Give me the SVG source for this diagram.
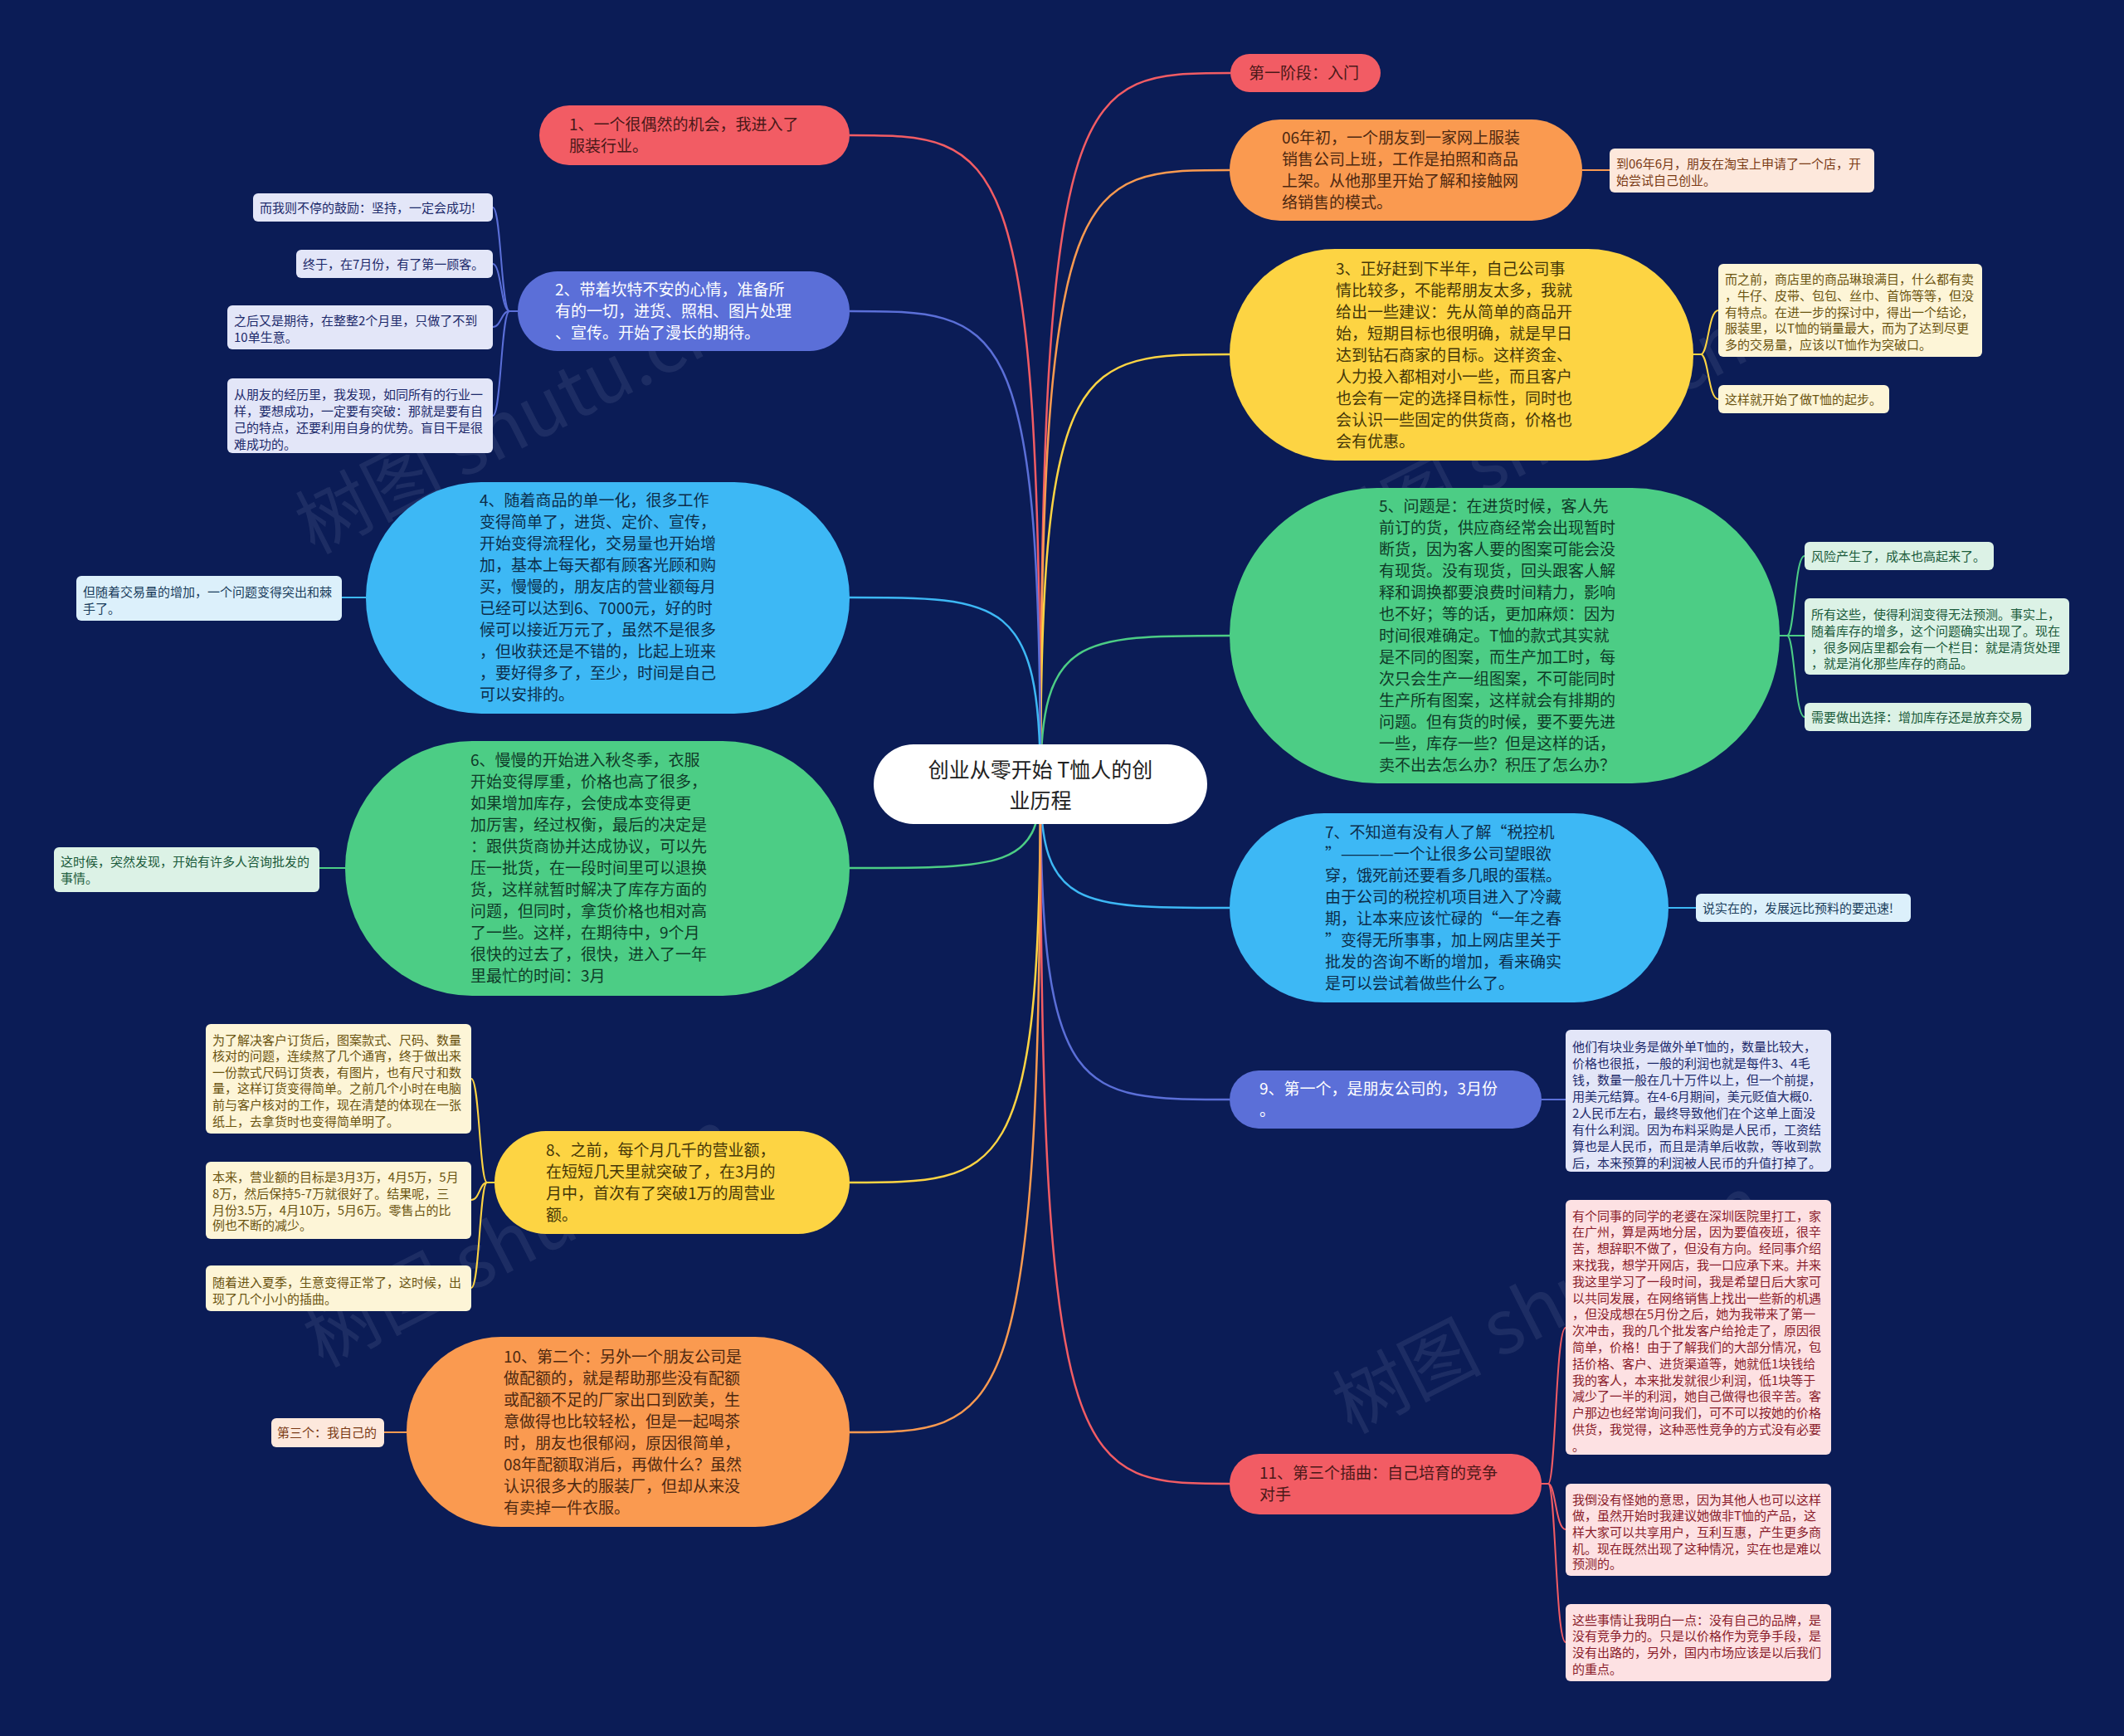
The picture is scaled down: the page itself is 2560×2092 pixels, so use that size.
<svg xmlns="http://www.w3.org/2000/svg" width="2560" height="2092" viewBox="0 0 2560 2092">
<defs>
<style>
text{font-family:'Noto Sans CJK SC','Noto Sans',sans-serif;}
.bg{fill:#0b1c56;}
.c{fill:none;stroke-width:2.5;}
.s{fill:none;stroke-width:2;}
.mt{font-size:19px;}
.nt{font-size:15px;}
.red{fill:#f25c64;} .redt{fill:#4a1818;}
.org{fill:#fa9a50;} .orgt{fill:#4d2810;}
.yel{fill:#fdd443;} .yelt{fill:#453708;}
.grn{fill:#4ccd85;} .grnt{fill:#0f3a28;}
.blu{fill:#3db8f5;} .blut{fill:#0c2d4a;}
.pur{fill:#5b6fd8;} .purt{fill:#ffffff;}
.nlav{fill:#e3e6f8;} .nlavt{fill:#1d2a6b;}
.npea{fill:#fde8dc;} .npeat{fill:#7a3a14;}
.nyel{fill:#fdf5d7;} .nyelt{fill:#6b5410;}
.ngrn{fill:#dcf2e6;} .ngrnt{fill:#1a5a3a;}
.nblu{fill:#dcf0fb;} .nblut{fill:#1a3d5c;}
.npnk{fill:#fde1e3;} .npnkt{fill:#8a1c2a;}
.wm{font-size:90px;fill:#9aa3c0;opacity:0.13;}
</style>
</defs>
<rect class="bg" x="0" y="0" width="2560" height="2092"/>

<g id="watermarks">
<text class="wm" x="630" y="540" text-anchor="middle" transform="rotate(-27 630 540)">树图 shutu.cn</text>
<text class="wm" x="1860" y="560" text-anchor="middle" transform="rotate(-27 1860 560)">树图 shutu.cn</text>
<text class="wm" x="640" y="1520" text-anchor="middle" transform="rotate(-27 640 1520)">树图 shutu.cn</text>
<text class="wm" x="1880" y="1600" text-anchor="middle" transform="rotate(-27 1880 1600)">树图 shutu.cn</text>
</g>

<g id="connectors">
<path class="c" stroke="#f25c64" d="M1254 945 C1254 88 1300 88 1483 88"/>
<path class="c" stroke="#fa9a50" d="M1254 945 C1254 205 1300 205 1482 205"/>
<path class="c" stroke="#fdd443" d="M1254 945 C1254 427 1300 427 1482 427"/>
<path class="c" stroke="#4ccd85" d="M1254 945 C1254 766 1300 766 1482 766"/>
<path class="c" stroke="#3db8f5" d="M1254 945 C1254 1094 1300 1094 1482 1094"/>
<path class="c" stroke="#5b6fd8" d="M1254 945 C1254 1325 1300 1325 1482 1325"/>
<path class="c" stroke="#f25c64" d="M1254 945 C1254 1788 1300 1788 1482 1788"/>
<path class="c" stroke="#f25c64" d="M1254 945 C1254 163 1208 163 1024 163"/>
<path class="c" stroke="#5b6fd8" d="M1254 945 C1254 375 1208 375 1024 375"/>
<path class="c" stroke="#3db8f5" d="M1254 945 C1254 720 1208 720 1024 720"/>
<path class="c" stroke="#4ccd85" d="M1254 945 C1254 1046 1208 1046 1024 1046"/>
<path class="c" stroke="#fdd443" d="M1254 945 C1254 1425 1208 1425 1024 1425"/>
<path class="c" stroke="#fa9a50" d="M1254 945 C1254 1726 1208 1726 1024 1726"/>
<path class="s" stroke="#5b6fd8" d="M624 375 L614 375 C604 375 604 250 594 250"/>
<path class="s" stroke="#5b6fd8" d="M624 375 L614 375 C604 375 604 318 594 318"/>
<path class="s" stroke="#5b6fd8" d="M624 375 L614 375 C604 375 604 394 594 394"/>
<path class="s" stroke="#5b6fd8" d="M624 375 L614 375 C604 375 604 501 594 501"/>
<path class="s" stroke="#fa9a50" d="M1907 205 L1940 205"/>
<path class="s" stroke="#fdd443" d="M2041 427 L2050 427 C2059 427 2059 374 2071 374"/>
<path class="s" stroke="#fdd443" d="M2041 427 L2050 427 C2059 427 2059 481 2071 481"/>
<path class="s" stroke="#4ccd85" d="M2145 766 L2154 766 C2163 766 2163 670 2175 670"/>
<path class="s" stroke="#4ccd85" d="M2145 766 L2175 766"/>
<path class="s" stroke="#4ccd85" d="M2145 766 L2154 766 C2163 766 2163 864 2175 864"/>
<path class="s" stroke="#3db8f5" d="M2011 1094 L2044 1094"/>
<path class="s" stroke="#5b6fd8" d="M1858 1325 L1887 1325"/>
<path class="s" stroke="#f25c64" d="M1858 1788 L1866 1788 C1875 1788 1875 1600 1887 1600"/>
<path class="s" stroke="#f25c64" d="M1858 1788 L1866 1788 C1875 1788 1875 1843 1887 1843"/>
<path class="s" stroke="#f25c64" d="M1858 1788 L1866 1788 C1875 1788 1875 1979 1887 1979"/>
<path class="s" stroke="#3db8f5" d="M441 720 L412 720"/>
<path class="s" stroke="#4ccd85" d="M416 1046 L385 1046"/>
<path class="s" stroke="#fdd443" d="M596 1425 L587 1425 C578 1425 578 1300 568 1300"/>
<path class="s" stroke="#fdd443" d="M596 1425 L587 1425 C578 1425 578 1446 568 1446"/>
<path class="s" stroke="#fdd443" d="M596 1425 L587 1425 C578 1425 578 1552 568 1552"/>
<path class="s" stroke="#fa9a50" d="M490 1726 L463 1726"/>
</g>

<g id="center">
<rect x="1053" y="897" width="402" height="96" rx="48" fill="#ffffff"/>
<text font-size="25" fill="#222222" text-anchor="middle"><tspan x="1254" y="937">创业从零开始 T恤人的创</tspan><tspan x="1254" y="974">业历程</tspan></text>
</g>

<g id="n-stage1">
<rect class="red" x="1483" y="65" width="181" height="46" rx="23"/>
<text class="mt redt" x="1505" y="95">第一阶段：入门</text>
</g>

<g id="n-06">
<rect class="org" x="1482" y="144" width="425" height="122" rx="61"/>
<text class="mt orgt"><tspan x="1545" y="173">06年初，一个朋友到一家网上服装</tspan><tspan x="1545" y="199">销售公司上班，工作是拍照和商品</tspan><tspan x="1545" y="225">上架。从他那里开始了解和接触网</tspan><tspan x="1545" y="251">络销售的模式。</tspan></text>
</g>

<g id="n-3">
<rect class="yel" x="1482" y="300" width="559" height="255" rx="127"/>
<text class="mt yelt"><tspan x="1610" y="331">3、正好赶到下半年，自己公司事</tspan><tspan x="1610" y="357">情比较多，不能帮朋友太多，我就</tspan><tspan x="1610" y="383">给出一些建议：先从简单的商品开</tspan><tspan x="1610" y="409">始，短期目标也很明确，就是早日</tspan><tspan x="1610" y="435">达到钻石商家的目标。这样资金、</tspan><tspan x="1610" y="461">人力投入都相对小一些，而且客户</tspan><tspan x="1610" y="487">也会有一定的选择目标性，同时也</tspan><tspan x="1610" y="513">会认识一些固定的供货商，价格也</tspan><tspan x="1610" y="539">会有优惠。</tspan></text>
</g>

<g id="n-5">
<rect class="grn" x="1482" y="588" width="663" height="356" rx="178"/>
<text class="mt grnt"><tspan x="1662" y="617">5、问题是：在进货时候，客人先</tspan><tspan x="1662" y="643">前订的货，供应商经常会出现暂时</tspan><tspan x="1662" y="669">断货，因为客人要的图案可能会没</tspan><tspan x="1662" y="695">有现货。没有现货，回头跟客人解</tspan><tspan x="1662" y="721">释和调换都要浪费时间精力，影响</tspan><tspan x="1662" y="747">也不好；等的话，更加麻烦：因为</tspan><tspan x="1662" y="773">时间很难确定。T恤的款式其实就</tspan><tspan x="1662" y="799">是不同的图案，而生产加工时，每</tspan><tspan x="1662" y="825">次只会生产一组图案，不可能同时</tspan><tspan x="1662" y="851">生产所有图案，这样就会有排期的</tspan><tspan x="1662" y="877">问题。但有货的时候，要不要先进</tspan><tspan x="1662" y="903">一些，库存一些？但是这样的话，</tspan><tspan x="1662" y="929">卖不出去怎么办？积压了怎么办？</tspan></text>
</g>

<g id="n-7">
<rect class="blu" x="1482" y="980" width="529" height="228" rx="114"/>
<text class="mt blut"><tspan x="1597" y="1010">7、不知道有没有人了解“税控机</tspan><tspan x="1597" y="1036">”————一个让很多公司望眼欲</tspan><tspan x="1597" y="1062">穿，饿死前还要看多几眼的蛋糕。</tspan><tspan x="1597" y="1088">由于公司的税控机项目进入了冷藏</tspan><tspan x="1597" y="1114">期，让本来应该忙碌的“一年之春</tspan><tspan x="1597" y="1140">”变得无所事事，加上网店里关于</tspan><tspan x="1597" y="1166">批发的咨询不断的增加，看来确实</tspan><tspan x="1597" y="1192">是可以尝试着做些什么了。</tspan></text>
</g>

<g id="n-9">
<rect class="pur" x="1482" y="1290" width="376" height="70" rx="35"/>
<text class="mt purt"><tspan x="1518" y="1319">9、第一个，是朋友公司的，3月份</tspan><tspan x="1518" y="1345">。</tspan></text>
</g>

<g id="n-11">
<rect class="red" x="1482" y="1752" width="376" height="73" rx="36"/>
<text class="mt redt"><tspan x="1518" y="1782">11、第三个插曲：自己培育的竞争</tspan><tspan x="1518" y="1808">对手</tspan></text>
</g>

<g id="n-1">
<rect class="red" x="650" y="127" width="374" height="72" rx="36"/>
<text class="mt redt"><tspan x="686" y="157">1、一个很偶然的机会，我进入了</tspan><tspan x="686" y="183">服装行业。</tspan></text>
</g>

<g id="n-2">
<rect class="pur" x="624" y="327" width="400" height="96" rx="48"/>
<text class="mt purt"><tspan x="669" y="356">2、带着坎特不安的心情，准备所</tspan><tspan x="669" y="382">有的一切，进货、照相、图片处理</tspan><tspan x="669" y="408">、宣传。开始了漫长的期待。</tspan></text>
</g>

<g id="n-4">
<rect class="blu" x="441" y="581" width="583" height="279" rx="139"/>
<text class="mt blut"><tspan x="578" y="610">4、随着商品的单一化，很多工作</tspan><tspan x="578" y="636">变得简单了，进货、定价、宣传，</tspan><tspan x="578" y="662">开始变得流程化，交易量也开始增</tspan><tspan x="578" y="688">加，基本上每天都有顾客光顾和购</tspan><tspan x="578" y="714">买，慢慢的，朋友店的营业额每月</tspan><tspan x="578" y="740">已经可以达到6、7000元，好的时</tspan><tspan x="578" y="766">候可以接近万元了，虽然不是很多</tspan><tspan x="578" y="792">，但收获还是不错的，比起上班来</tspan><tspan x="578" y="818">，要好得多了，至少，时间是自己</tspan><tspan x="578" y="844">可以安排的。</tspan></text>
</g>

<g id="n-6">
<rect class="grn" x="416" y="893" width="608" height="307" rx="153"/>
<text class="mt grnt"><tspan x="567" y="923">6、慢慢的开始进入秋冬季，衣服</tspan><tspan x="567" y="949">开始变得厚重，价格也高了很多，</tspan><tspan x="567" y="975">如果增加库存，会使成本变得更</tspan><tspan x="567" y="1001">加厉害，经过权衡，最后的决定是</tspan><tspan x="567" y="1027">：跟供货商协并达成协议，可以先</tspan><tspan x="567" y="1053">压一批货，在一段时间里可以退换</tspan><tspan x="567" y="1079">货，这样就暂时解决了库存方面的</tspan><tspan x="567" y="1105">问题，但同时，拿货价格也相对高</tspan><tspan x="567" y="1131">了一些。这样，在期待中，9个月</tspan><tspan x="567" y="1157">很快的过去了，很快，进入了一年</tspan><tspan x="567" y="1183">里最忙的时间：3月</tspan></text>
</g>

<g id="n-8">
<rect class="yel" x="596" y="1363" width="428" height="124" rx="62"/>
<text class="mt yelt"><tspan x="658" y="1393">8、之前，每个月几千的营业额，</tspan><tspan x="658" y="1419">在短短几天里就突破了，在3月的</tspan><tspan x="658" y="1445">月中，首次有了突破1万的周营业</tspan><tspan x="658" y="1471">额。</tspan></text>
</g>

<g id="n-10">
<rect class="org" x="490" y="1611" width="534" height="229" rx="114"/>
<text class="mt orgt"><tspan x="607" y="1642">10、第二个：另外一个朋友公司是</tspan><tspan x="607" y="1668">做配额的，就是帮助那些没有配额</tspan><tspan x="607" y="1694">或配额不足的厂家出口到欧美，生</tspan><tspan x="607" y="1720">意做得也比较轻松，但是一起喝茶</tspan><tspan x="607" y="1746">时，朋友也很郁闷，原因很简单，</tspan><tspan x="607" y="1772">08年配额取消后，再做什么？虽然</tspan><tspan x="607" y="1798">认识很多大的服装厂，但却从来没</tspan><tspan x="607" y="1824">有卖掉一件衣服。</tspan></text>
</g>

<g id="note-2a"><rect class="nlav" x="305" y="233" width="289" height="34" rx="6"/><text class="nt nlavt" x="313" y="255.5">而我则不停的鼓励：坚持，一定会成功!</text></g>
<g id="note-2b"><rect class="nlav" x="357" y="301" width="237" height="34" rx="6"/><text class="nt nlavt" x="365" y="323.5">终于，在7月份，有了第一顾客。</text></g>
<g id="note-2c"><rect class="nlav" x="274" y="368" width="320" height="53" rx="6"/><text class="nt nlavt"><tspan x="282" y="391.5">之后又是期待，在整整2个月里，只做了不到</tspan><tspan x="282" y="411.5">10单生意。</tspan></text></g>
<g id="note-2d"><rect class="nlav" x="274" y="456" width="320" height="90" rx="6"/><text class="nt nlavt"><tspan x="282" y="480.5">从朋友的经历里，我发现，如同所有的行业一</tspan><tspan x="282" y="500.5">样，要想成功，一定要有突破：那就是要有自</tspan><tspan x="282" y="520.5">己的特点，还要利用自身的优势。盲目干是很</tspan><tspan x="282" y="540.5">难成功的。</tspan></text></g>

<g id="note-06"><rect class="npea" x="1940" y="179" width="319" height="53" rx="6"/><text class="nt npeat"><tspan x="1948" y="202.5">到06年6月，朋友在淘宝上申请了一个店，开</tspan><tspan x="1948" y="222.5">始尝试自己创业。</tspan></text></g>

<g id="note-3a"><rect class="nyel" x="2071" y="318" width="318" height="112" rx="6"/><text class="nt nyelt"><tspan x="2079" y="342">而之前，商店里的商品琳琅满目，什么都有卖</tspan><tspan x="2079" y="362">，牛仔、皮带、包包、丝巾、首饰等等，但没</tspan><tspan x="2079" y="382">有特点。在进一步的探讨中，得出一个结论，</tspan><tspan x="2079" y="401">服装里，以T恤的销量最大，而为了达到尽更</tspan><tspan x="2079" y="421">多的交易量，应该以T恤作为突破口。</tspan></text></g>
<g id="note-3b"><rect class="nyel" x="2071" y="464" width="206" height="34" rx="6"/><text class="nt nyelt" x="2079" y="486.5">这样就开始了做T恤的起步。</text></g>

<g id="note-5a"><rect class="ngrn" x="2175" y="653" width="228" height="34" rx="6"/><text class="nt ngrnt" x="2183" y="675.5">风险产生了，成本也高起来了。</text></g>
<g id="note-5b"><rect class="ngrn" x="2175" y="721" width="319" height="92" rx="6"/><text class="nt ngrnt"><tspan x="2183" y="745.5">所有这些，使得利润变得无法预测。事实上，</tspan><tspan x="2183" y="765.5">随着库存的增多，这个问题确实出现了。现在</tspan><tspan x="2183" y="785.5">，很多网店里都会有一个栏目：就是清货处理</tspan><tspan x="2183" y="805">，就是消化那些库存的商品。</tspan></text></g>
<g id="note-5c"><rect class="ngrn" x="2175" y="847" width="273" height="34" rx="6"/><text class="nt ngrnt" x="2183" y="869.5">需要做出选择：增加库存还是放弃交易</text></g>

<g id="note-7"><rect class="nblu" x="2044" y="1077" width="259" height="34" rx="6"/><text class="nt nblut" x="2052" y="1099.5">说实在的，发展远比预料的要迅速!</text></g>

<g id="note-9"><rect class="nlav" x="1887" y="1241" width="320" height="171" rx="6"/><text class="nt nlavt"><tspan x="1895" y="1266.5">他们有块业务是做外单T恤的，数量比较大，</tspan><tspan x="1895" y="1286.5">价格也很抵，一般的利润也就是每件3、4毛</tspan><tspan x="1895" y="1306.5">钱，数量一般在几十万件以上，但一个前提，</tspan><tspan x="1895" y="1326.5">用美元结算。在4-6月期间，美元贬值大概0.</tspan><tspan x="1895" y="1346.5">2人民币左右，最终导致他们在个这单上面没</tspan><tspan x="1895" y="1366.5">有什么利润。因为布料采购是人民币，工资结</tspan><tspan x="1895" y="1386.5">算也是人民币，而且是清单后收款，等收到款</tspan><tspan x="1895" y="1406.5">后，本来预算的利润被人民币的升值打掉了。</tspan></text></g>

<g id="note-11a"><rect class="npnk" x="1887" y="1446" width="320" height="307" rx="6"/><text class="nt npnkt"><tspan x="1895" y="1470.5">有个同事的同学的老婆在深圳医院里打工，家</tspan><tspan x="1895" y="1490.3">在广州，算是两地分居，因为要值夜班，很辛</tspan><tspan x="1895" y="1510.1">苦，想辞职不做了，但没有方向。经同事介绍</tspan><tspan x="1895" y="1529.9">来找我，想学开网店，我一口应承下来。并来</tspan><tspan x="1895" y="1549.7">我这里学习了一段时间，我是希望日后大家可</tspan><tspan x="1895" y="1569.5">以共同发展，在网络销售上找出一些新的机遇</tspan><tspan x="1895" y="1589.3">，但没成想在5月份之后，她为我带来了第一</tspan><tspan x="1895" y="1609.1">次冲击，我的几个批发客户给抢走了，原因很</tspan><tspan x="1895" y="1628.9">简单，价格！由于了解我们的大部分情况，包</tspan><tspan x="1895" y="1648.7">括价格、客户、进货渠道等，她就低1块钱给</tspan><tspan x="1895" y="1668.5">我的客人，本来批发就很少利润，低1块等于</tspan><tspan x="1895" y="1688.3">减少了一半的利润，她自己做得也很辛苦。客</tspan><tspan x="1895" y="1708.1">户那边也经常询问我们，可不可以按她的价格</tspan><tspan x="1895" y="1727.9">供货，我觉得，这种恶性竞争的方式没有必要</tspan><tspan x="1895" y="1747.7">。</tspan></text></g>
<g id="note-11b"><rect class="npnk" x="1887" y="1788" width="320" height="111" rx="6"/><text class="nt npnkt"><tspan x="1895" y="1812.5">我倒没有怪她的意思，因为其他人也可以这样</tspan><tspan x="1895" y="1831.5">做，虽然开始时我建议她做非T恤的产品，这</tspan><tspan x="1895" y="1851.5">样大家可以共享用户，互利互惠，产生更多商</tspan><tspan x="1895" y="1871.5">机。现在既然出现了这种情况，实在也是难以</tspan><tspan x="1895" y="1890">预测的。</tspan></text></g>
<g id="note-11c"><rect class="npnk" x="1887" y="1933" width="320" height="93" rx="6"/><text class="nt npnkt"><tspan x="1895" y="1957.5">这些事情让我明白一点：没有自己的品牌，是</tspan><tspan x="1895" y="1976.5">没有竞争力的。只是以价格作为竞争手段，是</tspan><tspan x="1895" y="1996.5">没有出路的，另外，国内市场应该是以后我们</tspan><tspan x="1895" y="2016.5">的重点。</tspan></text></g>

<g id="note-4"><rect class="nblu" x="92" y="694" width="320" height="54" rx="6"/><text class="nt nblut"><tspan x="100" y="718.5">但随着交易量的增加，一个问题变得突出和棘</tspan><tspan x="100" y="738.5">手了。</tspan></text></g>
<g id="note-6"><rect class="ngrn" x="65" y="1021" width="320" height="54" rx="6"/><text class="nt ngrnt"><tspan x="73" y="1043.5">这时候，突然发现，开始有许多人咨询批发的</tspan><tspan x="73" y="1063.5">事情。</tspan></text></g>

<g id="note-8a"><rect class="nyel" x="248" y="1234" width="320" height="132" rx="6"/><text class="nt nyelt"><tspan x="256" y="1258.5">为了解决客户订货后，图案款式、尺码、数量</tspan><tspan x="256" y="1277.5">核对的问题，连续熬了几个通宵，终于做出来</tspan><tspan x="256" y="1297.5">一份款式尺码订货表，有图片，也有尺寸和数</tspan><tspan x="256" y="1316.5">量，这样订货变得简单。之前几个小时在电脑</tspan><tspan x="256" y="1336.5">前与客户核对的工作，现在清楚的体现在一张</tspan><tspan x="256" y="1356.5">纸上，去拿货时也变得简单明了。</tspan></text></g>
<g id="note-8b"><rect class="nyel" x="248" y="1400" width="320" height="93" rx="6"/><text class="nt nyelt"><tspan x="256" y="1423.5">本来，营业额的目标是3月3万，4月5万，5月</tspan><tspan x="256" y="1443.5">8万，然后保持5-7万就很好了。结果呢，三</tspan><tspan x="256" y="1463.5">月份3.5万，4月10万，5月6万。零售占的比</tspan><tspan x="256" y="1481.5">例也不断的减少。</tspan></text></g>
<g id="note-8c"><rect class="nyel" x="248" y="1525" width="320" height="55" rx="6"/><text class="nt nyelt"><tspan x="256" y="1550.5">随着进入夏季，生意变得正常了，这时候，出</tspan><tspan x="256" y="1570.5">现了几个小小的插曲。</tspan></text></g>

<g id="note-10"><rect class="npea" x="327" y="1709" width="136" height="35" rx="6"/><text class="nt npeat" x="334" y="1732">第三个：我自己的</text></g>
</svg>
